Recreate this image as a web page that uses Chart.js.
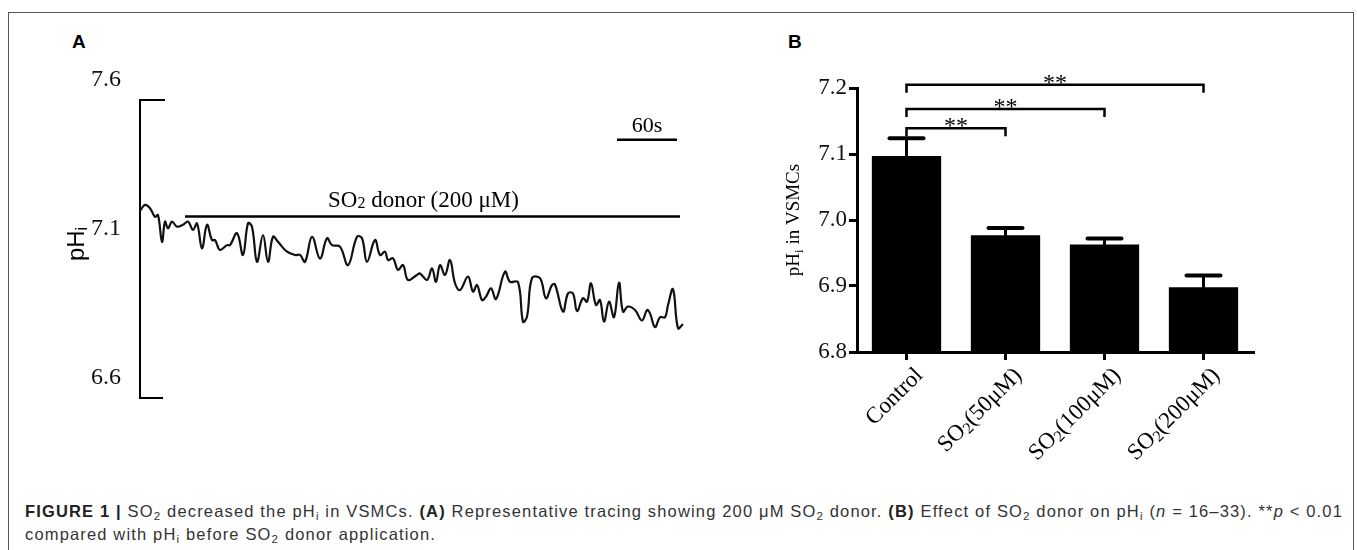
<!DOCTYPE html>
<html>
<head>
<meta charset="utf-8">
<script src="https://cdn.jsdelivr.net/npm/chart.js@4.4.1/dist/chart.umd.min.js"></script>
<style>
  html, body { margin: 0; padding: 0; background: #fff; }
  body { width: 1357px; height: 550px; position: relative; overflow: hidden; font-family: "Liberation Sans", Arial, sans-serif; }
  #frame { position: absolute; left: 8px; top: 12px; width: 1346px; height: 600px; border: 1.5px solid #555; box-sizing: border-box; }
  .plabel { position: absolute; font: bold 19px "Liberation Sans", Arial, sans-serif; color: #000; line-height: 19px; }
  #boxA { position: absolute; left: 0; top: 0; width: 720px; height: 470px; }
  #boxB { position: absolute; left: 730px; top: 0; width: 560px; height: 470px; }
  #caption { position: absolute; left: 25px; top: 500px; color: #333; font-size: 16.5px; line-height: 23px; white-space: nowrap; }
  #caption b { color: #222; }
  #caption sub { font-size: 0.7em; vertical-align: -0.25em; line-height: 0; }
</style>
</head>
<body>
<div id="frame"></div>
<div class="plabel" style="left:72px;top:32px">A</div>
<div class="plabel" style="left:788px;top:32px">B</div>
<div id="boxA"><canvas id="chartA" width="720" height="470"></canvas></div>
<div id="boxB"><canvas id="chartB" width="560" height="470"></canvas></div>
<div id="caption">
  <div id="cap1"><b>FIGURE 1 |</b> SO<sub>2</sub> decreased the pH<sub>i</sub> in VSMCs. <b>(A)</b> Representative tracing showing 200 μM SO<sub>2</sub> donor. <b>(B)</b> Effect of SO<sub>2</sub> donor on pH<sub>i</sub> (<i>n</i> = 16–33). **<i>p</i> &lt; 0.01</div>
  <div id="cap2">compared with pH<sub>i</sub> before SO<sub>2</sub> donor application.</div>
</div>
<script>
// Panel A — representative pHi trace (time in s, pH)
var traceTime = [0, 5, 10, 15, 18, 22, 25, 28, 32, 37, 43, 48, 53, 57, 62, 67, 72, 75, 80, 87,
  90, 97, 103, 108, 112, 117, 123, 128, 133, 138, 147, 155, 160, 165, 172, 180, 187, 192, 200, 208,
  217, 222, 227, 235, 240, 245, 248, 253, 258, 263, 268, 277, 280, 287, 292, 296, 300, 305, 310, 315,
  320, 328, 333, 337, 342, 346, 351, 356, 365, 370, 378, 383, 387, 392, 400, 406, 412, 415, 423, 428,
  433, 437, 443, 447, 451, 456, 460, 464, 469, 474, 479, 483, 488, 495, 502, 507, 510, 515, 520, 525,
  528, 533, 538, 543];
var tracePH = [7.228, 7.248, 7.237, 7.208, 7.214, 7.124, 7.192, 7.169, 7.192, 7.175, 7.181, 7.192, 7.164, 7.186, 7.102, 7.181, 7.130, 7.130, 7.097, 7.113,
  7.113, 7.153, 7.080, 7.186, 7.175, 7.057, 7.147, 7.057, 7.141, 7.124, 7.091, 7.080, 7.080, 7.057, 7.141, 7.068, 7.136, 7.113, 7.108, 7.046,
  7.141, 7.136, 7.057, 7.130, 7.080, 7.091, 7.063, 7.069, 7.030, 7.046, 6.996, 7.013, 7.018, 6.996, 7.035, 6.990, 7.046, 7.013, 7.063, 6.985,
  6.962, 7.007, 6.957, 6.979, 6.929, 6.940, 6.968, 6.932, 7.024, 6.990, 6.989, 6.856, 6.873, 7.002, 7.002, 6.935, 6.979, 6.981, 6.890, 6.951,
  6.951, 6.892, 6.935, 6.923, 6.985, 6.912, 6.929, 6.856, 6.923, 6.871, 6.987, 6.890, 6.907, 6.895, 6.860, 6.895, 6.884, 6.838, 6.871, 6.871,
  6.912, 6.965, 6.834, 6.848];
var donorSpan = [45, 540];
var donorLevel = 7.209;
var donorText = 'SO_2 donor (200 μM)';
var scaleBarSpan = [477, 537];
var scaleBarLevel = 7.467;
var scaleBarText = '60s';
var yTicksA = [6.6, 7.1, 7.6];

// Panel B — mean pHi per group
var groups = ['Control', 'SO_2(50μM)', 'SO_2(100μM)', 'SO_2(200μM)'];
var meanPH = [7.097, 6.977, 6.963, 6.898];
var semPH = [0.027, 0.011, 0.009, 0.018];
var sigPairs = [[0, 1], [0, 2], [0, 3]];
var sigLevels = [7.139, 7.168, 7.205];
var sigMarks = ['**', '**', '**'];
var yTicksB = [6.8, 6.9, 7.0, 7.1, 7.2];

var SERIF = '"Liberation Serif", "Times New Roman", serif';
var SANS = '"Liberation Sans", Arial, sans-serif';

// '_' marks the next char as subscript
function richParts(s) {
  var out = [];
  for (var i = 0; i < s.length; i++) {
    if (s[i] === '_' && i + 1 < s.length) { out.push([s[i + 1], true]); i++; }
    else if (out.length && !out[out.length - 1][1]) out[out.length - 1][0] += s[i];
    else out.push([s[i], false]);
  }
  return out;
}

function drawRich(ctx, s, x, y, size, family, align, subDrop) {
  var parts = richParts(s);
  var big = size + 'px ' + family, small = Math.round(size * 0.68) + 'px ' + family;
  var w = 0;
  parts.forEach(function(p) { ctx.font = p[1] ? small : big; p.w = ctx.measureText(p[0]).width; w += p.w; });
  var cx = align === 'center' ? x - w / 2 : align === 'right' ? x - w : x;
  ctx.textAlign = 'left';
  parts.forEach(function(p) {
    ctx.font = p[1] ? small : big;
    ctx.fillText(p[0], cx, y + (p[1] ? subDrop : 0));
    cx += p.w;
  });
}

var panelADecor = {
  id: 'panelADecor',
  afterDatasetsDraw: function(chart) {
    var ctx = chart.ctx, xs = chart.scales.x, ys = chart.scales.y, ca = chart.chartArea;
    ctx.save();
    ctx.strokeStyle = '#000';
    ctx.lineWidth = 2;
    var top = ys.getPixelForValue(ys.max), bot = ys.getPixelForValue(ys.min);
    ctx.beginPath();
    ctx.moveTo(ca.left, top); ctx.lineTo(ca.left + 25, top);
    ctx.moveTo(ca.left, bot); ctx.lineTo(ca.left + 23, bot);
    ctx.stroke();

    ctx.fillStyle = '#000';
    ctx.textBaseline = 'alphabetic';
    var dMid = (xs.getPixelForValue(donorSpan[0]) + xs.getPixelForValue(donorSpan[1])) / 2 - 9;
    drawRich(ctx, donorText, dMid, ys.getPixelForValue(donorLevel) - 10, 23, SERIF, 'center', 1);
    var sMid = (xs.getPixelForValue(scaleBarSpan[0]) + xs.getPixelForValue(scaleBarSpan[1])) / 2;
    drawRich(ctx, scaleBarText, sMid, ys.getPixelForValue(scaleBarLevel) - 8, 22, SERIF, 'center', 0);

    ctx.translate(84, 244);
    ctx.rotate(-Math.PI / 2);
    drawRich(ctx, 'pH_i', 0, 0, 24, SANS, 'center', 3);
    ctx.restore();
  }
};

new Chart(document.getElementById('chartA'), {
  type: 'line',
  data: {
    datasets: [
      { data: traceTime.map(function(t, i) { return { x: t, y: tracePH[i] }; }),
        borderColor: '#111', borderWidth: 2.2, tension: 0.4, pointRadius: 0 },
      { data: donorSpan.map(function(t) { return { x: t, y: donorLevel }; }),
        borderColor: '#000', borderWidth: 2.5, pointRadius: 0 },
      { data: scaleBarSpan.map(function(t) { return { x: t, y: scaleBarLevel }; }),
        borderColor: '#000', borderWidth: 2.5, pointRadius: 0 }
    ]
  },
  options: {
    responsive: false,
    animation: false,
    layout: { padding: { top: 100, bottom: 72, left: 0, right: 20 } },
    plugins: { legend: { display: false }, tooltip: { enabled: false } },
    scales: {
      x: { type: 'linear', min: 0, max: 560, display: false },
      y: {
        min: 6.6, max: 7.6,
        afterFit: function(s) { s.width = 140; },
        afterBuildTicks: function(s) { s.ticks = yTicksA.map(function(v) { return { value: v }; }); },
        grid: { display: false, drawTicks: false },
        border: { display: true, color: '#000', width: 2 },
        ticks: { font: { family: SERIF, size: 24 }, color: '#111', padding: 19, labelOffset: -20,
          callback: function(v) { return v.toFixed(1); } }
      }
    }
  },
  plugins: [panelADecor]
});

var panelBDecor = {
  id: 'panelBDecor',
  afterDatasetsDraw: function(chart) {
    var ctx = chart.ctx, xs = chart.scales.x, ys = chart.scales.y, ca = chart.chartArea;
    var bars = chart.getDatasetMeta(0).data;
    ctx.save();
    ctx.strokeStyle = '#000';
    ctx.lineCap = 'round';
    // error bars (upper only)
    bars.forEach(function(b, i) {
      var y0 = ys.getPixelForValue(meanPH[i]), y1 = ys.getPixelForValue(meanPH[i] + semPH[i]);
      ctx.lineWidth = 3;
      ctx.beginPath(); ctx.moveTo(b.x, y0); ctx.lineTo(b.x, y1); ctx.stroke();
      ctx.lineWidth = 4;
      ctx.beginPath(); ctx.moveTo(b.x - 17, y1); ctx.lineTo(b.x + 17, y1); ctx.stroke();
    });
    // significance brackets
    ctx.lineCap = 'butt';
    ctx.lineWidth = 2.5;
    ctx.fillStyle = '#000';
    sigPairs.forEach(function(p, k) {
      var xa = bars[p[0]].x, xb = bars[p[1]].x, yy = ys.getPixelForValue(sigLevels[k]);
      ctx.beginPath();
      ctx.moveTo(xa, yy + 8); ctx.lineTo(xa, yy); ctx.lineTo(xb, yy); ctx.lineTo(xb, yy + 8);
      ctx.stroke();
      ctx.font = '24px ' + SERIF;
      ctx.textAlign = 'center';
      ctx.textBaseline = 'alphabetic';
      ctx.fillText(sigMarks[k], (xa + xb) / 2, yy + 5);
    });
    // rotated category labels
    ctx.fillStyle = '#000';
    ctx.textBaseline = 'middle';
    groups.forEach(function(g, i) {
      ctx.save();
      ctx.translate(xs.getPixelForValue(i) + 13, ca.bottom + 20);
      ctx.rotate(-Math.PI / 4);
      drawRich(ctx, g, 0, 0, 23, SERIF, 'right', 5);
      ctx.restore();
    });
    // y title
    ctx.textBaseline = 'alphabetic';
    ctx.translate(ca.left - 58, (ca.top + ca.bottom) / 2);
    ctx.rotate(-Math.PI / 2);
    drawRich(ctx, 'pH_i in VSMCs', 0, 0, 19, SERIF, 'center', 4);
    ctx.restore();
  }
};

new Chart(document.getElementById('chartB'), {
  type: 'bar',
  data: {
    labels: groups,
    datasets: [{ data: meanPH, backgroundColor: '#000', borderWidth: 0, barPercentage: 0.7, categoryPercentage: 1 }]
  },
  options: {
    responsive: false,
    animation: false,
    layout: { padding: { top: 88, right: 37, bottom: 0, left: 0 } },
    plugins: { legend: { display: false }, tooltip: { enabled: false } },
    scales: {
      x: {
        afterFit: function(s) { s.height = 118; },
        grid: { display: true, offset: false, drawOnChartArea: false, tickLength: 8, color: '#000', lineWidth: 3 },
        border: { display: true, color: '#000', width: 3 },
        ticks: { display: false }
      },
      y: {
        min: 6.8, max: 7.2, beginAtZero: false,
        afterFit: function(s) { s.width = 127; },
        afterBuildTicks: function(s) { s.ticks = yTicksB.map(function(v) { return { value: v }; }); },
        grid: { drawOnChartArea: false, tickLength: 8, color: '#000', lineWidth: 3 },
        border: { display: true, color: '#000', width: 3 },
        ticks: { font: { family: SERIF, size: 23 }, color: '#111', padding: 2,
          callback: function(v) { return v.toFixed(1); } }
      }
    }
  },
  plugins: [panelBDecor]
});

// stretch caption line 1 to the reference width
(function() {
  var c1 = document.getElementById('cap1');
  c1.style.display = 'inline-block';
  var w = c1.getBoundingClientRect().width;
  var n = c1.textContent.length;
  var ls = (1318 - w) / n;
  document.getElementById('caption').style.letterSpacing = ls.toFixed(3) + 'px';
  c1.style.display = 'block';
})();
</script>
</body>
</html>
